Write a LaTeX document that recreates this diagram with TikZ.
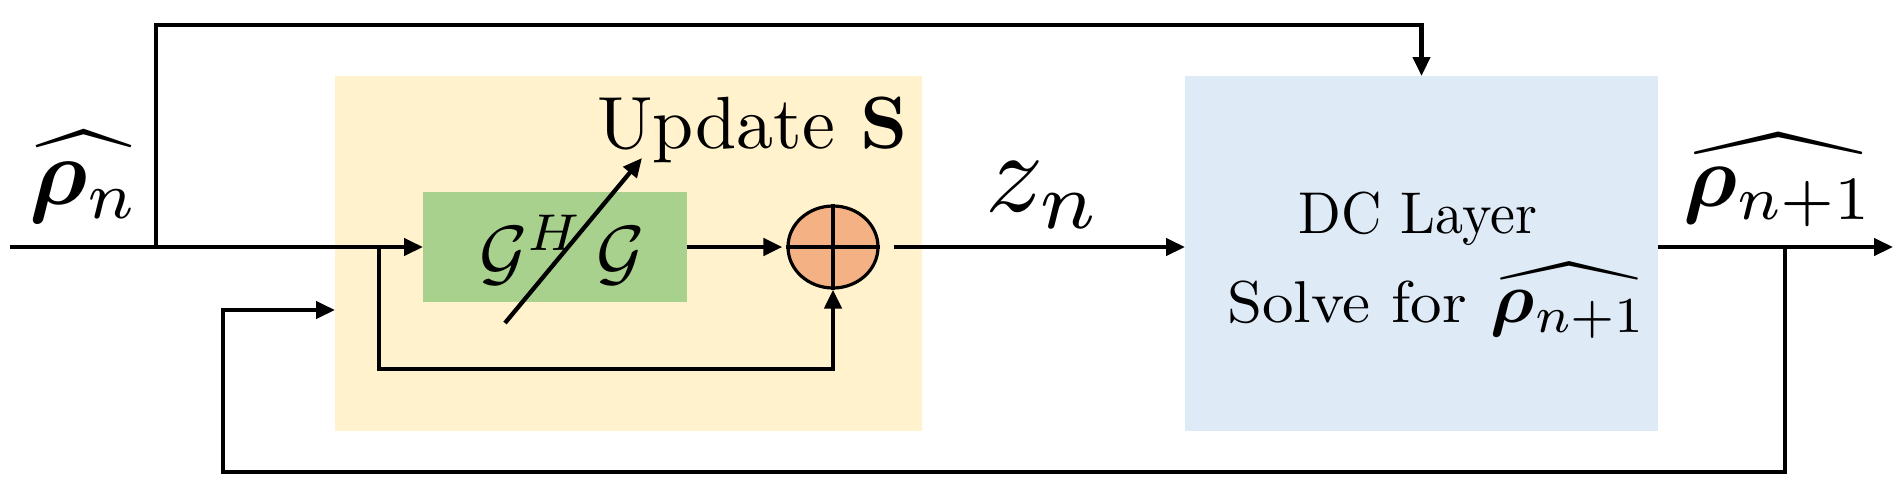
\documentclass[tikz,border=0pt]{standalone}
\usepackage{amsmath,amssymb,bm}
\usepackage{graphicx}
\usetikzlibrary{arrows.meta,shapes.geometric}
\definecolor{ybox}{HTML}{FFF2CC}
\definecolor{gbox}{HTML}{A9D18E}
\definecolor{bbox}{HTML}{DEEBF7}
\definecolor{osum}{HTML}{F4B183}
\newcommand{\bigtxt}[2]{\scalebox{#1}{#2}}
\newcommand{\bigtxtxy}[3]{\scalebox{#1}[#2]{#3}}
\tikzset{
  wire/.style={line width=4.3pt,line join=miter},
  arr/.style={wire,-{Triangle[length=19pt,width=17pt]}},
  block/.style={inner sep=0pt,outer sep=0pt,draw=none},
  lbl/.style={inner sep=0pt,outer sep=0pt},
}
\begin{document}
\begin{tikzpicture}[x=1pt,y=-1pt]
\useasboundingbox[fill=white] (0,0) rectangle (1902,499);
% blocks
\node[block,fill=ybox,minimum width=587pt,minimum height=355pt] (upd) at (628.5,253.5) {};
\node[block,fill=gbox,minimum width=264pt,minimum height=110pt] (gg) at (555,247) {};
\node[block,fill=bbox,minimum width=473pt,minimum height=355pt] (dc) at (1421.5,253.5) {};
\node[ellipse,draw,line width=3.2pt,fill=osum,minimum width=90pt,minimum height=82pt,inner sep=0pt] (sum) at (833,247) {};
\draw[line width=3.2pt] (sum.north) -- (sum.south) (sum.west) -- (sum.east);
% texts
\node[lbl,anchor=base west] (updlbl) at (597,148) {\bigtxt{7.4}{Update $\mathbf{S}$}};
\node[lbl] (gglbl) at (562,250) {\bigtxt{7.4}{$\mathcal{G}^H\,\mathcal{G}$}};
\node[lbl,anchor=base] (dc1) at (1418,233) {\bigtxtxy{5.6}{5.9}{DC Layer}};
\node[lbl,anchor=base west] (dc2) at (1227,322) {\bigtxtxy{6.3}{5.9}{Solve for}\hspace{24pt}\bigtxt{7.2}{$\widehat{\boldsymbol{\rho}_{n+1}}$}};
\node[lbl] (zlbl) at (1044,195) {\bigtxt{11.5}{$z_n$}};
\node[lbl] (rin) at (84,177) {\bigtxt{9.5}{$\widehat{\boldsymbol{\rho}_n}$}};
\node[lbl] (rout) at (1779,180) {\bigtxt{8.8}{$\widehat{\boldsymbol{\rho}_{n+1}}$}};
% coordinates
\coordinate (in) at (10,247);
\coordinate (b1) at (156,247);
\coordinate (top) at (156,25);
\coordinate (b2) at (379,247);
\coordinate (c2) at (379,369);
\coordinate (out) at (1893,247);
\coordinate (b3) at (1785,247);
\coordinate (fb1) at (223,472);
\coordinate (fb2) at (223,310);
\coordinate (d1) at (505,323);
\coordinate (d2) at (642,158);
% connectors
\draw[arr] (in) -- (in -| gg.west);
\draw[arr] (b1) -- (top) -| (dc.north);
\draw[arr] (b2) -- (c2) -| (sum.south);
\draw[arr,shorten >=4pt] (gg.east |- sum.west) -- (sum.west);
\draw[arr,shorten <=14pt] (sum.east) -- (sum.east -| dc.west);
\draw[arr] (out -| dc.east) -- (out);
\draw[arr] (b3) |- (fb1) -- (fb2) -- (fb2 -| upd.west);
\draw[arr] (d1) -- (d2);
\end{tikzpicture}
\end{document}
